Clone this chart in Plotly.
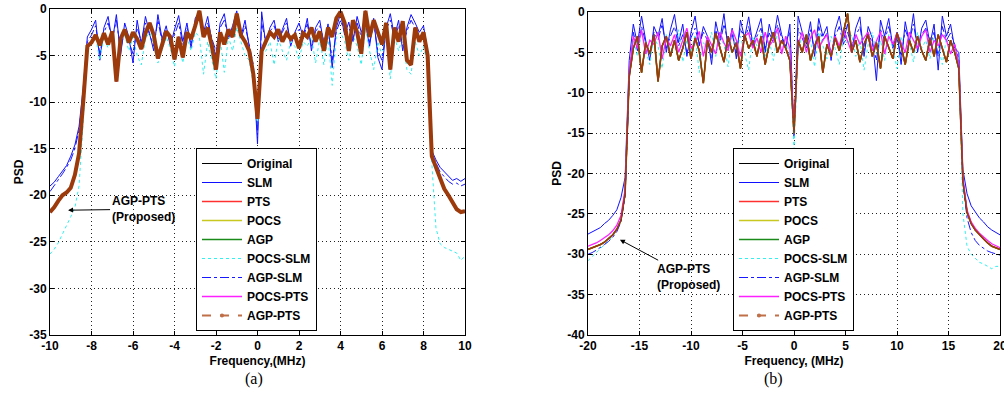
import numpy as np
import plotly.graph_objects as go

# ---------------- data: panel (a) ----------------
freq_a = np.round(np.linspace(-10, 10, 101), 2)

agp_pts_a = [-21.8,-21.3,-20.6,-20.0,-19.7,-19.2,-17.8,-15.5,-10.0,-4.0,
             -3.6,-2.8,-3.9,-2.6,-3.8,-2.4,-7.8,-3.2,-2.2,-3.6,
             -2.5,-3.2,-4.3,-2.6,-1.5,-2.8,-5.3,-3.8,-2.4,-3.0,
             -5.4,-3.0,-5.2,-2.5,-3.2,-1.8,-0.2,-3.0,-2.0,-4.0,
             -6.5,-2.5,-3.8,-2.2,-3.0,-0.5,-2.8,-3.5,-4.5,-7.0,
             -11.8,-4.5,-3.6,-2.5,-3.0,-2.2,-3.5,-2.6,-3.2,-2.8,
             -4.2,-2.6,-3.0,-2.0,-3.5,-2.4,-4.5,-2.0,-3.0,-1.0,
             -0.3,-1.5,-4.5,-1.2,-2.5,-4.8,-0.2,-3.0,-1.2,-2.6,
             -3.8,-1.5,-6.5,-2.0,-3.5,-1.3,-5.5,-6.0,-2.0,-3.5,
             -2.5,-5.0,-15.8,-17.0,-18.3,-19.3,-20.0,-20.8,-21.5,-21.8,-21.7]

slm_a = [-19.0,-18.6,-18.0,-17.4,-16.8,-15.8,-14.6,-12.6,-8.5,-3.0,
         -2.2,-1.2,-5.5,-2.0,-0.8,-3.5,-0.6,-5.0,-1.5,-3.0,
         -5.8,-1.2,-3.8,-0.8,-2.5,-4.5,-0.6,-3.2,-1.8,-4.0,
         -2.2,-0.7,-3.5,-1.5,-4.2,-1.0,-0.3,-2.5,-0.8,-3.5,
         -5.0,-1.5,-0.5,-3.2,-1.8,-0.2,-3.0,-1.2,-4.0,-6.5,
         -14.5,
         -0.3,-3.8,-2.0,-1.2,-3.5,-2.2,-1.0,-4.0,-2.5,
         -1.5,-3.0,-1.0,-4.5,-2.0,-1.2,-3.8,-1.6,-6.3,-2.0,
         -0.5,-2.8,-1.4,-3.5,-0.8,-2.5,-1.5,-4.0,-1.0,-5.2,
         -6.5,-2.0,-0.5,-3.0,-1.2,-4.5,-2.0,-0.6,-1.5,-2.5,
         -1.8,-4.5,-15.2,-16.2,-17.0,-17.5,-18.0,-18.4,-18.2,-18.5,-18.2]

pocs_slm_a = [-26.3,-25.8,-25.1,-24.2,-23.2,-22.3,-21.3,-19.0,-12.0,-4.5,
              -3.8,-3.0,-5.5,-3.0,-4.2,-2.8,-6.0,-3.5,-2.8,-4.5,
              -3.0,-5.0,-6.0,-3.2,-2.5,-4.0,-5.8,-4.5,-3.0,-4.2,
              -6.2,-3.5,-5.8,-3.0,-4.5,-2.5,-3.0,-7.0,-3.5,-5.5,
              -7.5,-3.2,-6.8,-3.0,-4.5,-2.0,-3.5,-5.0,-5.5,-8.0,
              -12.5,
              -5.0,-4.5,-3.5,-6.0,-3.2,-4.5,-5.5,-3.5,-4.0,
              -5.5,-3.5,-4.0,-3.0,-5.8,-3.2,-6.0,-3.0,-8.2,-3.0,
              -2.5,-3.5,-5.5,-2.8,-4.0,-6.0,-2.0,-4.5,-6.5,-3.5,
              -5.0,-2.8,-7.5,-3.0,-4.5,-3.0,-6.5,-7.0,-3.5,-5.0,
              -4.0,-6.0,-16.5,-23.5,-25.2,-25.6,-25.8,-26.0,-26.2,-27.0,-26.5]

agp_slm_a = [-19.6,-19.0,-18.3,-17.7,-17.0,-16.2,-15.0,-13.0,-9.0,-3.5,
             -2.8,-1.8,-4.8,-2.5,-1.5,-3.2,-1.2,-4.5,-2.2,-3.4,
             -4.8,-2.0,-3.5,-1.5,-2.8,-4.0,-1.2,-3.5,-2.2,-3.6,
             -2.8,-1.5,-3.8,-2.0,-3.8,-1.5,-0.8,-2.8,-1.5,-3.2,
             -4.5,-2.0,-1.2,-3.0,-2.2,-0.8,-3.2,-1.8,-3.8,-6.0,
             -13.5,
             -1.5,-3.5,-2.4,-1.8,-3.2,-2.5,-1.5,-3.6,-2.8,
             -2.2,-3.2,-1.6,-4.0,-2.4,-1.8,-3.5,-2.0,-5.5,-2.4,
             -1.2,-2.5,-2.0,-3.2,-1.5,-3.0,-1.2,-3.6,-1.5,-4.5,
             -5.5,-2.2,-1.2,-3.2,-1.8,-4.0,-2.4,-1.2,-2.0,-3.0,
             -2.5,-5.0,-15.5,-16.5,-17.5,-18.0,-18.5,-18.8,-18.7,-19.0,-18.8]

# ---------------- data: panel (b) ----------------
freq_b = np.round(np.linspace(-20, 20, 101), 2)

agp_pts_b = [-29.4,-29.2,-29.0,-28.8,-28.5,-28.1,-27.6,-26.9,-25.8,-22.5,-8.0,
             -4.5,-3.0,-7.5,-3.8,-5.2,-2.8,-8.6,-4.2,-3.0,-5.5,
             -3.5,-6.0,-4.5,-2.5,-5.8,-3.2,-4.8,-8.8,-3.5,-5.0,
             -2.6,-4.5,-6.2,-3.0,-5.0,-3.8,-7.0,-2.8,-4.5,-3.5,
             -5.5,-3.0,-6.5,-4.0,-2.5,-5.0,-3.5,-4.5,-6.0,
             -15.0,
             -3.5,-5.0,-2.8,-6.0,-4.2,-3.0,-7.5,-4.0,-5.5,-3.2,
             -4.8,-2.5,-0.2,-5.0,-3.5,-6.2,-4.0,-2.8,-5.5,-3.8,
             -7.0,-3.0,-4.5,-5.8,-2.6,-4.2,-6.5,-3.5,-5.0,-3.0,
             -4.8,-6.0,-3.2,-5.5,-2.8,-4.5,-6.2,-3.5,-5.0,
             -7.0,-21.0,-24.8,-26.2,-27.0,-27.6,-28.1,-28.6,-29.0,-29.2,-29.4]

slm_b = [-27.5,-27.2,-27.0,-26.7,-26.2,-25.8,-25.2,-24.5,-23.0,-20.5,-6.0,
         -1.5,-4.0,-0.5,-3.5,-6.0,-1.8,-3.0,-0.8,-5.0,-2.2,
         -0.3,-3.8,-1.5,-5.5,-2.5,-0.5,-4.2,-1.8,-3.0,-6.5,
         -1.2,-3.5,-0.2,-4.5,-2.0,-5.8,-1.0,-3.2,-0.6,-4.0,
         -2.5,-0.8,-5.0,-1.5,-3.5,-0.4,-2.8,-4.5,-1.5,
         -15.5,
         -0.5,-2.5,-4.0,-1.2,-5.5,-0.8,-3.0,-1.8,-6.0,-2.2,
         -0.5,-3.5,-1.5,-4.8,-2.0,-0.6,-5.5,-1.8,-3.2,-8.5,
         -1.0,-3.0,-0.8,-4.5,-2.5,-6.5,-1.2,-3.8,-0.2,-5.0,
         -2.0,-1.0,-4.0,-1.5,-7.2,-0.5,-3.0,-1.5,-4.5,
         -5.0,-19.5,-22.5,-24.0,-24.8,-25.5,-26.0,-26.6,-27.0,-27.3,-27.6]

pocs_slm_b = [-30.8,-30.3,-29.8,-29.3,-28.8,-28.3,-27.8,-27.0,-25.5,-22.0,-8.0,
              -3.5,-5.5,-2.5,-4.8,-6.5,-3.0,-4.2,-7.0,-2.8,-5.0,
              -4.0,-2.2,-6.2,-3.5,-5.0,-2.8,-7.5,-3.8,-4.5,-2.5,
              -5.5,-3.2,-4.0,-6.8,-2.5,-4.5,-3.0,-5.2,-7.2,-3.0,
              -4.2,-2.8,-5.5,-3.5,-6.0,-2.5,-4.8,-3.2,-5.5,
              -17.0,
              -5.0,-2.8,-4.5,-3.5,-6.8,-2.5,-4.2,-5.8,-3.0,-4.5,
              -6.5,-3.2,-4.0,-2.8,-5.5,-3.5,-7.2,-4.0,-2.5,-5.2,
              -3.5,-6.0,-2.8,-4.5,-7.0,-3.0,-5.0,-3.8,-6.2,-2.5,
              -4.5,-3.5,-5.8,-2.8,-4.2,-6.5,-3.2,-5.0,-4.0,
              -6.0,-25.0,-29.0,-30.0,-30.5,-31.0,-31.2,-31.5,-31.8,-31.5,-31.5]

agp_slm_b = [-30.0,-29.8,-29.5,-29.2,-28.8,-28.4,-27.9,-27.2,-26.0,-22.8,-8.5,
             -2.5,-4.8,-1.8,-3.8,-5.2,-2.5,-3.5,-1.5,-4.5,-3.0,
             -1.8,-4.2,-2.8,-5.0,-3.2,-2.0,-4.0,-2.5,-3.5,-5.8,
             -2.2,-4.0,-1.5,-3.8,-2.8,-5.0,-2.0,-3.5,-1.8,-4.2,
             -3.0,-2.0,-4.5,-2.6,-3.8,-1.6,-3.2,-4.2,-2.4,
             -15.0,
             -2.0,-3.2,-4.5,-2.2,-4.8,-1.8,-3.5,-2.6,-5.2,-3.0,
             -1.8,-4.0,-2.5,-4.2,-3.0,-1.8,-4.8,-2.6,-3.8,-6.0,
             -2.2,-3.5,-1.8,-4.0,-3.2,-5.5,-2.2,-3.6,-1.5,-4.5,
             -2.8,-2.0,-4.2,-2.5,-5.5,-1.8,-3.5,-2.6,-4.0,
             -6.0,-21.0,-25.5,-27.3,-28.3,-28.9,-29.3,-29.6,-29.8,-30.0,-30.1]

pocs_pts_b = [-29.0,-28.8,-28.6,-28.3,-28.0,-27.6,-27.1,-26.4,-25.2,-22.0,-7.5,
              -3.0,-4.5,-2.2,-5.2,-3.5,-4.0,-2.5,-5.8,-3.2,-4.2,
              -2.8,-5.0,-3.5,-2.0,-4.5,-3.8,-2.4,-5.5,-3.0,-4.0,
              -5.2,-2.5,-3.8,-4.8,-2.2,-3.5,-5.5,-3.0,-2.6,-4.5,
              -3.2,-5.0,-2.5,-4.2,-3.5,-2.0,-5.2,-3.0,-4.5,
              -14.5,
              -4.0,-2.5,-5.0,-3.2,-2.2,-4.5,-3.5,-2.8,-5.5,-3.0,
              -4.2,-2.2,-3.5,-5.0,-2.8,-4.0,-3.2,-2.5,-4.8,-3.5,
              -2.4,-5.2,-3.0,-4.0,-2.6,-3.8,-5.0,-2.5,-3.5,-4.5,
              -3.0,-2.2,-5.0,-3.5,-4.2,-2.8,-3.5,-5.2,-4.0,
              -6.5,-20.5,-24.5,-26.0,-26.8,-27.4,-27.9,-28.3,-28.7,-29.0,-29.2]

# tick labels
xt_a = [-10, -8, -6, -4, -2, 0, 2, 4, 6, 8, 10]
yt_a = [-35, -30, -25, -20, -15, -10, -5, 0]
xt_b = [-20, -15, -10, -5, 0, 5, 10, 15, 20]
yt_b = [-40, -35, -30, -25, -20, -15, -10, -5, 0]

names = ["Original", "SLM", "PTS", "POCS", "AGP", "POCS-SLM", "AGP-SLM", "POCS-PTS", "AGP-PTS"]

# ---------------- figure ----------------
W, H = 1004, 407
BROWN = "#9c3a0c"
styles = {
    "Original": dict(color="black", width=1, dash="solid"),
    "SLM": dict(color="#1010ff", width=1, dash="solid"),
    "PTS": dict(color="#ff3030", width=1.3, dash="solid"),
    "POCS": dict(color="#c8c820", width=1.3, dash="solid"),
    "AGP": dict(color="#1a8a1a", width=1.3, dash="solid"),
    "POCS-SLM": dict(color="#30f0f0", width=1, dash="dot"),
    "AGP-SLM": dict(color="#1818ff", width=1, dash="dashdot"),
    "POCS-PTS": dict(color="#ff20ff", width=1.3, dash="solid"),
}

data_a = {"Original": agp_pts_a, "SLM": slm_a, "PTS": agp_pts_a, "POCS": agp_pts_a,
          "AGP": agp_pts_a, "POCS-SLM": pocs_slm_a, "AGP-SLM": agp_slm_a,
          "POCS-PTS": agp_pts_a, "AGP-PTS": agp_pts_a}
data_b = {"Original": agp_pts_b, "SLM": slm_b, "PTS": agp_pts_b, "POCS": agp_pts_b,
          "AGP": agp_pts_b, "POCS-SLM": pocs_slm_b, "AGP-SLM": agp_slm_b,
          "POCS-PTS": pocs_pts_b, "AGP-PTS": agp_pts_b}

fig = go.Figure()

for panel, (fx, dd, xa, ya, leg, bw) in enumerate([
        (freq_a, data_a, "x", "y", "legend", 4.0),
        (freq_b, data_b, "x2", "y2", "legend2", 1.6)]):
    for nm in names:
        if nm == "AGP-PTS":
            fig.add_trace(go.Scatter(x=fx, y=dd[nm], mode="lines", name=nm,
                                     line=dict(color=BROWN, width=bw),
                                     xaxis=xa, yaxis=ya, legend=leg, showlegend=False))
            fig.add_trace(go.Scatter(x=[None], y=[None], mode="lines+markers", name=nm,
                                     line=dict(color="#c07048", width=2, dash="dash"),
                                     marker=dict(size=4, color="#c07048"),
                                     xaxis=xa, yaxis=ya, legend=leg))
        else:
            fig.add_trace(go.Scatter(x=fx, y=dd[nm], mode="lines", name=nm,
                                     line=styles[nm], xaxis=xa, yaxis=ya, legend=leg))

tickfont = dict(family="Liberation Sans, Arial", size=12, color="black", weight="bold")
titlefont = dict(family="Liberation Sans, Arial", size=12, color="black", weight="bold")
axis_common = dict(showline=True, linecolor="black", linewidth=1, mirror="ticks",
                   ticks="inside", ticklen=4, tickcolor="black", automargin=False,
                   showgrid=True, gridcolor="#222222", griddash="1px,3px", gridwidth=1,
                   zeroline=False, tickfont=tickfont, ticklabeloverflow="allow")

def px_x(p):
    return p / W

def px_y(p):
    return 1 - p / H

legfont = dict(family="Liberation Sans, Arial", size=12, color="black", weight="bold")

fig.update_layout(
    width=W, height=H, margin=dict(l=0, r=0, t=0, b=0),
    paper_bgcolor="white", plot_bgcolor="white",
    xaxis=dict(domain=[px_x(50), px_x(465)], range=[-10, 10], anchor="y",
               tickvals=xt_a, ticktext=[str(v) for v in xt_a],
               title=dict(text="Frequency,(MHz)", font=titlefont, standoff=4), **axis_common),
    yaxis=dict(domain=[px_y(335), px_y(9)], range=[-35, 0], anchor="x",
               tickvals=yt_a, ticktext=[str(v) for v in yt_a],
               title=dict(text="PSD", font=titlefont, standoff=3), **axis_common),
    xaxis2=dict(domain=[px_x(588), px_x(1000)], range=[-20, 20], anchor="y2",
                tickvals=xt_b, ticktext=[str(v) for v in xt_b],
                title=dict(text="Frequency, (MHz)", font=titlefont, standoff=4), **axis_common),
    yaxis2=dict(domain=[px_y(335), px_y(12)], range=[-40, 0], anchor="x2",
                tickvals=yt_b, ticktext=[str(v) for v in yt_b],
                title=dict(text="PSD", font=titlefont, standoff=3), **axis_common),
    legend=dict(x=px_x(196), y=px_y(148), xanchor="left", yanchor="top",
                bgcolor="white", bordercolor="black", borderwidth=1,
                font=legfont, itemwidth=40, tracegroupgap=0),
    legend2=dict(x=px_x(733), y=px_y(148), xanchor="left", yanchor="top",
                 bgcolor="white", bordercolor="black", borderwidth=1,
                 font=legfont, itemwidth=40, tracegroupgap=0),
    showlegend=True,
)

annfont = dict(family="Liberation Sans, Arial", size=12, color="black", weight="bold")
fig.add_annotation(x=-9.13, y=-21.6, xref="x", yref="y", text="AGP-PTS<br>(Proposed)",
                   showarrow=True, arrowhead=2, arrowsize=1, arrowwidth=1, arrowcolor="black",
                   ax=75, ay=-1, font=annfont, align="left")
fig.add_annotation(x=-16.9, y=-28.2, xref="x2", yref="y2", text="AGP-PTS<br>(Proposed)",
                   showarrow=True, arrowhead=2, arrowsize=1, arrowwidth=1, arrowcolor="black",
                   ax=69, ay=37, font=annfont, align="left")

capfont = dict(family="Liberation Serif, Times New Roman", size=16, color="black")
fig.add_annotation(x=px_x(243), y=px_y(390), xref="paper", yref="paper", text="(a)",
                   showarrow=False, font=capfont)
fig.add_annotation(x=px_x(785), y=px_y(390), xref="paper", yref="paper", text="(b)",
                   showarrow=False, font=capfont)

fig.write_html("out.html", config={"displayModeBar": False},
               post_script="document.body.style.margin='0';")
